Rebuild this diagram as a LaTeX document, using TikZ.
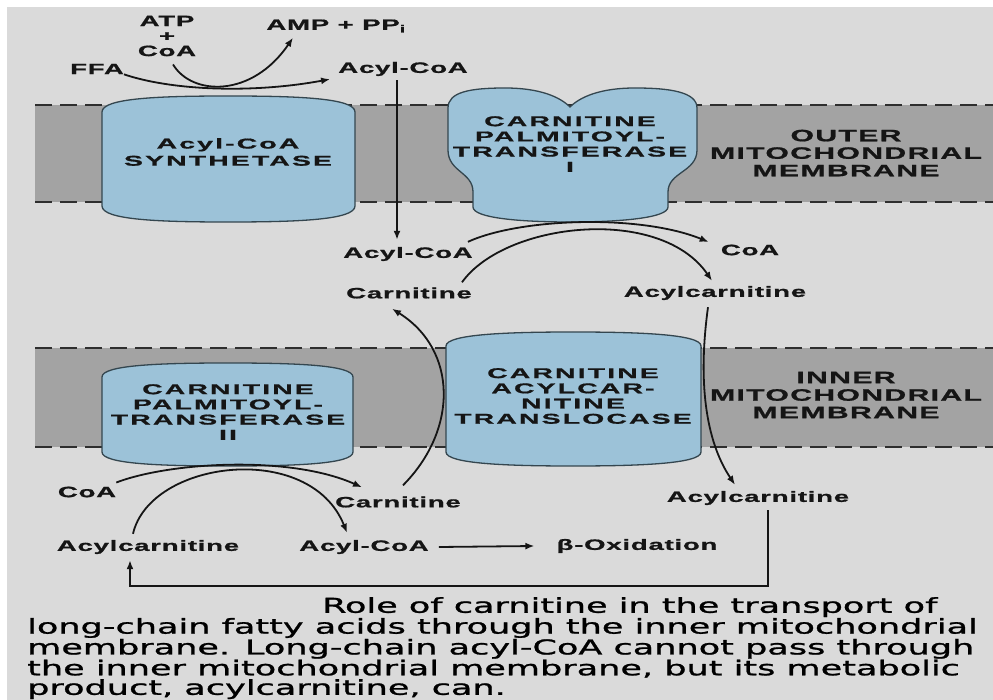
\documentclass[tikz,border=0pt]{standalone}
\usepackage{fontspec}
\setmainfont{Liberation Sans}
\newfontfamily\lblfont[FakeStretch=1.84,LetterSpace=5,FakeBold=1]{Liberation Sans Bold}
\newfontfamily\capsfont[FakeStretch=2.0,LetterSpace=15,FakeBold=1]{Liberation Sans Bold}
\newfontfamily\membfont[FakeStretch=1.83,LetterSpace=8,FakeBold=1]{Liberation Sans Bold}
\newfontfamily\capfont[FakeStretch=1.71,FakeBold=1.2]{DejaVu Sans}
\usepackage{tikz}
\usetikzlibrary{arrows.meta, positioning}
\definecolor{bggray}{HTML}{DADADA}
\definecolor{memgray}{HTML}{A3A3A3}
\definecolor{dashgray}{HTML}{2E2E2E}
\definecolor{enzblue}{HTML}{9CC2D8}
\definecolor{enzline}{HTML}{34464F}
\definecolor{txt}{HTML}{151515}

\begin{document}
\begin{tikzpicture}[x=1pt, y=-1pt,
    enzyme/.style={draw=enzline, fill=enzblue, line width=1.3pt},
    leaflet/.style={draw=dashgray, line width=1.6pt, dash pattern=on 17pt off 8pt},
    rxn/.style={line width=1.8pt, txt, -{Latex[length=9pt,width=7pt]}},
    lbl/.style={font=\lblfont\fontsize{15}{15}\selectfont, text=txt,
      inner sep=0pt},
    enzlabel/.style={font=\capsfont\fontsize{14.2}{15.2}\selectfont,
      align=center, text=txt, inner sep=0pt},
    memlabel/.style={font=\membfont\fontsize{16.5}{17.5}\selectfont,
      align=center, text=txt, inner sep=0pt},
    captionline/.style={font=\capfont\fontsize{20.5}{19.5}\selectfont,
      align=left, text=black, inner sep=0pt} ]
    \useasboundingbox (0,0) rectangle (993,700);
    % Background
    \fill[white] (0,0) rectangle (993,700);
    \fill[bggray] (7,7) rectangle (993,700);

    % Membranes
    \fill[memgray] (35,105) rectangle (993,202); \fill[memgray] (35,348)
    rectangle (993,447);
    \draw[leaflet] (35,105) -- (993,105); \draw[leaflet] (35,202) -- (993,202);
    \draw[leaflet] (35,348) -- (993,348); \draw[leaflet] (35,447) -- (993,447);

    % Enzymes in the outer membrane
    \draw[enzyme] (102,206) -- (102,112) .. controls (102,98) and (160,96) ..
    (228,96) .. controls (297,96) and (355,98) .. (355,112) -- (355,206) ..
    controls (355,220) and (297,222) .. (228,222) .. controls (160,222) and
    (102,220) .. (102,206) -- cycle;
    \draw[enzyme] (448,150) -- (448,108) .. controls (448,92) and (470,88) ..
    (505,88) .. controls (540,88) and (560,97) .. (570,107) .. controls
    (580,97) and (600,88) .. (635,88) .. controls (670,88) and (697,92) ..
    (697,108) -- (697,150) .. controls (697,172) and (668,172) .. (668,192) --
    (668,207) .. controls (668,218) and (620,222) .. (570,222) .. controls
    (520,222) and (473,218) .. (473,207) -- (473,192) .. controls (473,172)
    and (448,172) .. (448,150) -- cycle;

    % Enzymes in the inner membrane
    \draw[enzyme] (102,452) -- (102,377) .. controls (102,365) and (160,363) ..
    (228,363) .. controls (296,363) and (353,365) .. (353,377) -- (353,452) ..
    controls (353,464) and (296,466) .. (228,466) .. controls (160,466) and
    (102,464) .. (102,452) -- cycle;
    \draw[enzyme] (446,452) -- (446,346) .. controls (446,334) and (510,332) ..
    (573,332) .. controls (636,332) and (701,334) .. (701,346) -- (701,452) ..
    controls (701,464) and (636,466) .. (573,466) .. controls (510,466) and
    (446,464) .. (446,452) -- cycle;

    % Enzyme and membrane names
    \node[enzlabel] (acs) at (228,152) {Acyl-CoA\\[2pt]SYNTHETASE};
    \node[enzlabel] (cpt1) at (570,144) {CARNITINE\\PALMITOYL-\\TRANSFERASE\\I};
    \node[enzlabel] (cact) at (573,396) {CARNITINE\\ACYLCAR-\\NITINE\\TRANSLOCASE};
    \node[enzlabel] (cpt2) at (228,412) {CARNITINE\\PALMITOYL-\\TRANSFERASE\\II};
    \node[memlabel] (outer) at (846,153) {OUTER\\MITOCHONDRIAL\\MEMBRANE};
    \node[memlabel] (inner) at (846,395) {INNER\\MITOCHONDRIAL\\MEMBRANE};

    % Metabolites, cytosol
    \node[lbl, align=center] (atp) at (167,36) {ATP\\+\\CoA};
    \node[lbl] (amp) at (336,26) {AMP + PP\textsubscript{i}};
    \node[lbl] (ffa) at (97,69) {FFA}; \node[lbl] (acyltop) at (403,69)
    {Acyl-CoA};

    % Metabolites, intermembrane space
    \node[lbl] (acylmid) at (408,254) {Acyl-CoA}; \node[lbl] (carnmid) at
    (409,293) {Carnitine}; \node[lbl] (coamid) at (750,250) {CoA};
    \node[lbl] (acylcarmid) at (715,293) {Acylcarnitine};

    % Metabolites, matrix
    \node[lbl] (coabot) at (87,492) {CoA}; \node[lbl] (carnbot) at (398,502)
    {Carnitine}; \node[lbl] (acylcarR) at (758,498) {Acylcarnitine};
    \node[lbl] (acylcarL) at (148,547) {Acylcarnitine}; \node[lbl] (acylbot)
    at (364,547) {Acyl-CoA}; \node[lbl] (betaox) at (637,546) {β-Oxidation};

    % Activation
    \draw[rxn] (ffa.south east) .. controls (170,90) and (250,94) ..
    ([xshift=-8pt,yshift=-3pt]acyltop.south west);
    \draw[rxn] ([xshift=6pt,yshift=-8pt]atp.south) .. controls (192,96) and
    (252,98) .. ([xshift=-43pt,yshift=-5pt]amp.south);
    \draw[rxn] ([xshift=-6pt,yshift=-4pt]acyltop.south) --
    ([xshift=-11pt,yshift=7pt]acylmid.north);

    % CPT I
    \draw[rxn] ([xshift=-5pt,yshift=5pt]acylmid.north east) .. controls
    (520,218) and (640,214) .. ([xshift=-12pt,yshift=8pt]coamid.west);
    \draw[rxn] ([xshift=-10pt,yshift=5pt]carnmid.north east) .. controls
    (505,222) and (660,205) .. ([xshift=-3pt,yshift=5pt]acylcarmid.north);

    % Translocase
    \draw[rxn] ([xshift=5pt,yshift=11pt]carnbot.north) .. controls (458,430)
    and (458,350) .. ([xshift=-17pt,yshift=-10pt]carnmid.south);
    \draw[rxn] ([xshift=-7pt,yshift=-7pt]acylcarmid.south) .. controls
    (698,380) and (705,440) .. ([xshift=-23pt,yshift=6pt]acylcarR.north);

    % CPT II
    \draw[rxn] ([yshift=4pt]coabot.north east) .. controls (170,462) and
    (290,455) .. ([xshift=-36pt,yshift=9pt]carnbot.north);
    \draw[rxn] ([xshift=-15pt,yshift=6pt]acylcarL.north) .. controls (150,460)
    and (310,440) .. ([xshift=-17pt,yshift=7pt]acylbot.north);
    \draw[rxn] ([xshift=10pt]acylbot.east) -- ([xshift=-22pt]betaox.west);
    \draw[rxn] ([xshift=10pt,yshift=-5pt]acylcarR.south) -- ++(0,76) -|
    ([xshift=-18pt,yshift=-6pt]acylcarL.south);

    % Caption
    \node[captionline, anchor=north west] (caption) at (27,597)
    {\hspace*{295pt}Role of carnitine in the transport of\\long-chain fatty
    acids through the inner mitochondrial\\membrane. Long-chain acyl-CoA
    cannot pass through\\the inner mitochondrial membrane, but its
    metabolic\\product, acylcarnitine, can.};
\end{tikzpicture}
\end{document}
